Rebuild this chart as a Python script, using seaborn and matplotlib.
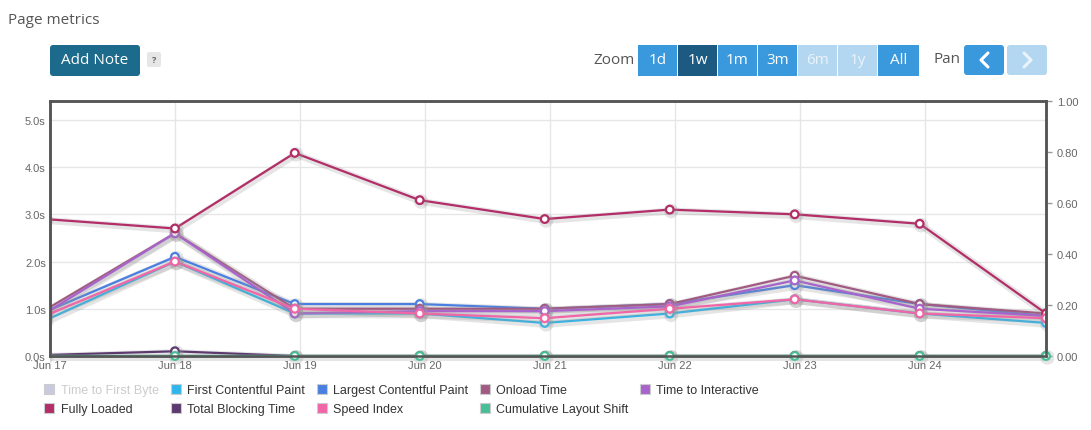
import matplotlib
matplotlib.use("Agg")
import matplotlib.pyplot as plt
import matplotlib.dates as mdates
import matplotlib.patheffects as pe
from matplotlib.patches import FancyBboxPatch, Rectangle
from matplotlib.lines import Line2D
from matplotlib.transforms import IdentityTransform
import numpy as np
import pandas as pd
import seaborn as sns

# --- dane ---
times = ["2023-06-16 23:00", "2023-06-18 00:00", "2023-06-18 23:00", "2023-06-19 23:00",
         "2023-06-20 23:00", "2023-06-21 23:00", "2023-06-22 23:00", "2023-06-23 23:00",
         "2023-06-24 23:15"]

first_contentful_paint = [0.75, 2.0, 0.9, 0.9, 0.7, 0.9, 1.2, 0.9, 0.7]
largest_contentful_paint = [0.93, 2.1, 1.1, 1.1, 1.0, 1.1, 1.5, 1.1, 0.85]
onload_time = [0.97, 2.6, 1.0, 1.0, 1.0, 1.1, 1.7, 1.1, 0.9]
time_to_interactive = [0.9, 2.6, 0.9, 0.95, 0.95, 1.05, 1.6, 1.0, 0.85]
fully_loaded = [2.9, 2.7, 4.3, 3.3, 2.9, 3.1, 3.0, 2.8, 0.9]
total_blocking_time = [0.02, 0.1, 0.0, 0.0, 0.0, 0.0, 0.0, 0.0, 0.0]
speed_index = [0.85, 2.0, 1.0, 0.9, 0.8, 1.0, 1.2, 0.9, 0.8]
cumulative_layout_shift = [0.0, 0.0, 0.0, 0.0, 0.0, 0.0, 0.0, 0.0, 0.0]

legend_names = ["Time to First Byte", "First Contentful Paint", "Largest Contentful Paint",
                "Onload Time", "Time to Interactive", "Fully Loaded", "Total Blocking Time",
                "Speed Index", "Cumulative Layout Shift"]
colors = {
    "Time to First Byte": "#c8cbe0",
    "First Contentful Paint": "#2fb6ec",
    "Largest Contentful Paint": "#4a7fe2",
    "Onload Time": "#a25a82",
    "Time to Interactive": "#a864cc",
    "Fully Loaded": "#b32d68",
    "Total Blocking Time": "#5c3a70",
    "Speed Index": "#f066a6",
    "Cumulative Layout Shift": "#48bf96",
}
left_ticks = [0, 1, 2, 3, 4, 5]
right_ticks = [0.0, 0.2, 0.4, 0.6, 0.8, 1.0]

W, H = 1091, 431
t = pd.to_datetime(times)

sns.set_theme(style="white")
plt.rcParams["font.family"] = ["Liberation Sans", "DejaVu Sans"]

fig = plt.figure(figsize=(W / 100, H / 100), dpi=100)
ax = fig.add_axes([50 / W, 1 - 357 / H, (1046 - 50) / W, (357 - 102) / H])
ax2 = ax.twinx()

shadow = [pe.SimpleLineShadow(offset=(1, -1), shadow_color="#999999", alpha=0.25, linewidth=5),
          pe.Normal()]

left_series = [
    ("First Contentful Paint", first_contentful_paint),
    ("Largest Contentful Paint", largest_contentful_paint),
    ("Onload Time", onload_time),
    ("Time to Interactive", time_to_interactive),
    ("Fully Loaded", fully_loaded),
    ("Total Blocking Time", total_blocking_time),
    ("Speed Index", speed_index),
]
for name, vals in left_series:
    c = colors[name]
    sns.lineplot(x=t, y=vals, ax=ax, color=c, linewidth=1.6, marker="o",
                 markersize=5.5, markerfacecolor="white", markeredgecolor=c,
                 markeredgewidth=1.6, path_effects=shadow)

# CLS na prawej osi; punkty na dolnej krawedzi nie moga byc uciete w pionie
c = colors["Cumulative Layout Shift"]
cls_ax = sns.lineplot(x=t, y=cumulative_layout_shift, ax=ax2, color=c, linewidth=1.6,
                      marker="o", markersize=5.5, markerfacecolor="white", markeredgecolor=c,
                      markeredgewidth=1.6, path_effects=shadow)
x0_px = ax.get_position().x0 * W
clip = Rectangle((x0_px - 0.5, 0), (1046 - 50) + 8, H, transform=IdentityTransform())
for ln in ax2.lines:
    ln.set_clip_path(clip)

# osie
ax.set_xlim(pd.Timestamp("2023-06-17 00:00"), t[-1])
ax2.set_xlim(pd.Timestamp("2023-06-17 00:00"), t[-1])
ax.set_ylim(0, 5.4)
ax2.set_ylim(0, 1.0)
ax.set_yticks(left_ticks)
ax.set_yticklabels([f"{v:.1f}s" for v in left_ticks])
ax2.set_yticks(right_ticks)
ax2.set_yticklabels([f"{v:.2f}" for v in right_ticks])
ax.xaxis.set_major_locator(mdates.DayLocator())
ax.xaxis.set_major_formatter(mdates.DateFormatter("%b %d"))
ax.set_xlabel("")
ax.set_ylabel("")
ax2.set_ylabel("")

ax.grid(True, color="#e6e6e6", linewidth=1)
ax.set_axisbelow(True)
ax2.grid(False)
ax.tick_params(axis="y", length=0, pad=3, labelsize=8, labelcolor="#666666")
ax.tick_params(axis="x", length=0, pad=3, labelsize=8, labelcolor="#666666")
ax2.tick_params(axis="y", length=4, width=1, color="#999999", pad=4, labelsize=8,
                labelcolor="#666666")
for a in (ax, ax2):
    for s in a.spines.values():
        s.set_color("#555555")
        s.set_linewidth(1.8)

# legenda (kolejnosc kolumnowa dla ncol=5)
handles = {}
for name in legend_names:
    handles[name] = Line2D([], [], marker="s", linestyle="", markersize=7,
                           markerfacecolor=colors[name], markeredgecolor="#cccccc",
                           markeredgewidth=0.8, label=name)
order = ["Time to First Byte", "Fully Loaded", "First Contentful Paint", "Total Blocking Time",
         "Largest Contentful Paint", "Speed Index", "Onload Time", "Cumulative Layout Shift",
         "Time to Interactive"]
leg = fig.legend([handles[n] for n in order], order, ncol=5, loc="upper left",
                 bbox_to_anchor=(45 / W, 1 - 385 / H), frameon=False, fontsize=9,
                 handlelength=0.7, handletextpad=0.55, columnspacing=1.0,
                 labelspacing=0.6, borderpad=0, borderaxespad=0)
for txt in leg.get_texts():
    txt.set_color("#cccccc" if txt.get_text() == "Time to First Byte" else "#333333")

# --- elementy interfejsu ---
px = IdentityTransform()
ui_font = ["Open Sans", "DejaVu Sans"]


def box(x0, y0, x1, y1, color, r=3):
    p = FancyBboxPatch((x0, H - y1), x1 - x0, y1 - y0,
                       boxstyle=f"round,pad=0,rounding_size={r}", transform=px,
                       facecolor=color, edgecolor="none")
    fig.add_artist(p)


def label(x, y, s, color, size=11, ha="center", weight="normal"):
    fig.text(x / W, 1 - y / H, s, color=color, fontsize=size, ha=ha, va="center",
             family=ui_font, weight=weight)


fig.text(8 / W, 1 - 20 / H, "Page metrics", fontsize=11, color="#555555", va="center",
         family=ui_font)
box(50, 46, 140, 77, "#1c6b8c")
label(95, 61, "Add Note", "white", size=11)
box(147, 53, 161, 68, "#e6e6e6", r=2)
label(154, 60.5, "?", "#666666", size=6.5, weight="bold")

label(614, 61, "Zoom", "#555555", size=11)
zoom_btns = [("1d", 638, 677, "#3a98dc", "white"), ("1w", 678, 717, "#1d5a82", "white"),
             ("1m", 718, 757, "#3a98dc", "white"), ("3m", 758, 797, "#3a98dc", "white"),
             ("6m", 798, 837, "#b3d7f0", "#eaf3fb"), ("1y", 838, 877, "#b3d7f0", "#eaf3fb"),
             ("All", 878, 919, "#3a98dc", "white")]
for i, (s, x0, x1, fc, tc) in enumerate(zoom_btns):
    fig.add_artist(Rectangle((x0, H - 77), x1 - x0, 31, transform=px, facecolor=fc,
                             edgecolor="none"))
    label((x0 + x1) / 2, 61, s, tc, size=11)
label(947, 60, "Pan", "#555555", size=11)
box(964, 46, 1004, 76, "#3a98dc")
box(1007, 46, 1047, 76, "#b3d7f0")
fig.add_artist(Line2D([988, 981, 988], [H - 54, H - 61, H - 68], transform=px,
                      color="white", linewidth=2.2, solid_capstyle="round"))
fig.add_artist(Line2D([1024, 1031, 1024], [H - 54, H - 61, H - 68], transform=px,
                      color="#eaf3fb", linewidth=2.2, solid_capstyle="round"))

fig.savefig("out.png", dpi=100, facecolor="white")
